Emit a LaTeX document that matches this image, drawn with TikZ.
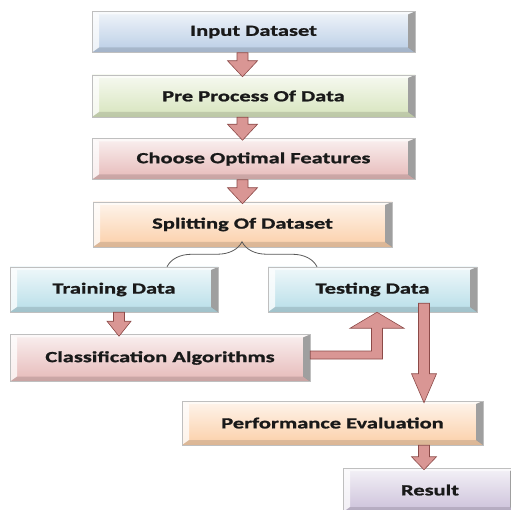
\documentclass[tikz,border=0pt]{standalone}
\usepackage{fontspec}
\newfontfamily\boxfont[FakeStretch=1.45,BoldFeatures={FakeBold=1.2}]{Carlito}
\usetikzlibrary{calc,decorations.pathreplacing}

\definecolor{inblue}{HTML}{B9CDE5}
\definecolor{prgreen}{HTML}{D7E4BD}
\definecolor{chpink}{HTML}{E6B9B8}
\definecolor{sppeach}{HTML}{FBCFA8}
\definecolor{trcyan}{HTML}{B7DEE8}
\definecolor{relilac}{HTML}{CCC1DA}
\definecolor{arrowpink}{HTML}{D99694}
\definecolor{arrowedge}{HTML}{8C4A48}

\tikzset{
  box/.style={draw=gray!50, line width=0.5pt, inner sep=0pt,
    font=\boxfont\bfseries\fontsize{15.5}{18}\selectfont, text=black!90,
    path picture={
      % bevelled rim: light left and top, dark right, shaded bottom
      \fill[white, opacity=0.75] (path picture bounding box.north west)
        -- ([shift={(7pt,-3pt)}]path picture bounding box.north west)
        -- ([shift={(7pt,5pt)}]path picture bounding box.south west)
        -- (path picture bounding box.south west) -- cycle;
      \fill[white, opacity=0.6] (path picture bounding box.north west)
        -- (path picture bounding box.north east)
        -- ([shift={(-7pt,-3pt)}]path picture bounding box.north east)
        -- ([shift={(7pt,-3pt)}]path picture bounding box.north west) -- cycle;
      \fill[gray!75] (path picture bounding box.north east)
        -- ([shift={(-7pt,-3pt)}]path picture bounding box.north east)
        -- ([shift={(-7pt,5pt)}]path picture bounding box.south east)
        -- (path picture bounding box.south east) -- cycle;
      \fill[black, opacity=0.12] (path picture bounding box.south west)
        -- ([shift={(7pt,5pt)}]path picture bounding box.south west)
        -- ([shift={(-7pt,5pt)}]path picture bounding box.south east)
        -- (path picture bounding box.south east) -- cycle;
    }},
  colbox/.style={box, top color=#1!22, bottom color=#1},
  arrowbody/.style={fill=arrowpink, draw=arrowedge, line width=0.6pt, line join=miter},
  bracegray/.style={draw=gray!70!black, line width=0.8pt}
}

% straight block arrow pointing down: [head length]{from}{to}{head half width}
\newcommand{\blockdown}[4][14pt]{%
  \path[arrowbody] let \p1=(#2), \p2=(#3) in
    ({\x1-5.5pt},\y1) -- ({\x1+5.5pt},\y1) -- ({\x1+5.5pt},{\y2+#1})
    -- ({\x1+#4},{\y2+#1}) -- (\x1,{\y2-2pt}) -- ({\x1-#4},{\y2+#1})
    -- ({\x1-5.5pt},{\y2+#1}) -- cycle;}

% block arrow going right, then up
\newcommand{\blockelbow}[2]{%
  \path[arrowbody] let \p1=(#1), \p2=(#2) in
    (\x1,{\y1+4pt}) -- ({\x2-5.5pt},{\y1+4pt}) -- ({\x2-5.5pt},{\y2-16pt})
    -- ({\x2-27pt},{\y2-16pt}) -- (\x2,\y2) -- ({\x2+27pt},{\y2-16pt})
    -- ({\x2+5.5pt},{\y2-16pt}) -- ({\x2+5.5pt},{\y1-4pt}) -- (\x1,{\y1-4pt}) -- cycle;}

\begin{document}
\begin{tikzpicture}[x=1pt,y=-1pt]
  \useasboundingbox[fill=white] (0,0) rectangle (511,510);

  \node[colbox=inblue, minimum width=323pt, minimum height=41pt] (input) at (253.5,32) {Input Dataset};
  \node[colbox=prgreen, minimum width=323pt, minimum height=42pt] (pre) at (253.5,96) {Pre Process Of Data};
  \node[colbox=chpink, minimum width=323pt, minimum height=41pt] (choose) at (253.5,159) {Choose Optimal Features};
  \node[colbox=sppeach, minimum width=299pt, minimum height=45pt] (split) at (242.5,224.5) {Splitting Of Dataset};

  \node[colbox=trcyan, minimum width=208pt, minimum height=45pt] (train) at (114,289.5) {Training Data};
  \node[colbox=trcyan, minimum width=209pt, minimum height=45pt] (test) at (372.5,289.5) {Testing Data};
  \node[colbox=chpink, minimum width=300pt, minimum height=47pt] (class) at (160,358) {Classification Algorithms};

  \node[colbox=sppeach, minimum width=301pt, minimum height=44pt] (perf) at (332.5,423) {Performance Evaluation};
  \node[colbox=relilac, minimum width=174pt, minimum height=44pt] (result) at (430,490) {Result};

  % arrows down the main column
  \blockdown{input.south -| split}{pre.north -| split}{15pt}
  \blockdown{pre.south -| split}{choose.north -| split}{15pt}
  \blockdown{choose.south -| split}{split.north}{15pt}

  % split into the two data sets
  \draw[bracegray, decorate, decoration={brace, amplitude=25pt}]
    ([xshift=53pt]train.north) -- ([xshift=-55.5pt]test.north);

  \coordinate (tc) at ([xshift=5pt]train.south);
  \blockdown[13pt]{tc}{class.north -| tc}{12pt}
  \blockelbow{[yshift=3pt]class.east}{[xshift=4.5pt]test.south}

  \coordinate (td) at ([xshift=51.5pt,yshift=9pt]test.south);
  \blockdown[27pt]{td}{perf.north -| td}{12.5pt}
  \coordinate (pr) at ([xshift=91.5pt]perf.south);
  \blockdown[11pt]{pr}{result.north -| pr}{12.5pt}
\end{tikzpicture}
\end{document}
